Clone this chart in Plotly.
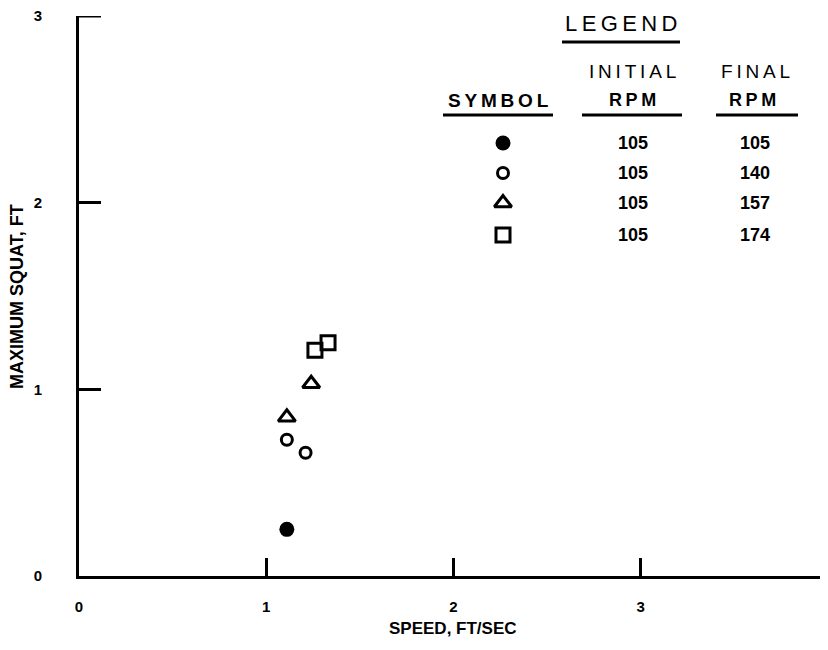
import plotly.graph_objects as go

# data: speed (ft/sec) vs maximum squat (ft), by final RPM
speed_105 = [1.11]
squat_105 = [0.25]
speed_140 = [1.11, 1.21]
squat_140 = [0.73, 0.66]
speed_157 = [1.11, 1.24]
squat_157 = [0.85, 1.03]
speed_174 = [1.26, 1.33]
squat_174 = [1.21, 1.25]

initial_rpm = [105, 105, 105, 105]
final_rpm = [105, 140, 157, 174]

x_ticks = [0, 1, 2, 3, 4]
y_ticks = [0, 1, 2, 3]

FONT = 'Liberation Sans, Arial, sans-serif'
# page body has an 8px margin, so the figure is a bit smaller than the window
W, H = 820, 634
L, R, T = 71, 0, 8
PW, PH = 749, 560
B = H - T - PH

# helpers: screen pixel -> paper fraction
def px(x):
    return (x - 79) / PW


def py(y):
    return (576 - y) / PH


STYLES = [
    dict(symbol='circle', size=15, color='black', line=dict(width=0)),
    dict(symbol='circle-open', size=11, color='black', line=dict(width=3, color='black')),
    dict(symbol='triangle-up-open', size=15, color='black', line=dict(width=3, color='black')),
    dict(symbol='square-open', size=14, color='black', line=dict(width=3, color='black')),
]

series = [(speed_105, squat_105), (speed_140, squat_140),
          (speed_157, squat_157), (speed_174, squat_174)]

fig = go.Figure()
for (sx, sy), st in zip(series, STYLES):
    fig.add_trace(go.Scatter(x=sx, y=sy, mode='markers', marker=st,
                             showlegend=False, cliponaxis=False))

# legend table drawn by hand on an overlay axis in paper units
row_y = [143, 173, 203, 235]
for yy, st in zip(row_y, STYLES):
    fig.add_trace(go.Scatter(x=[px(503)], y=[py(yy)], mode='markers', marker=st,
                             showlegend=False, xaxis='x2', yaxis='y2',
                             cliponaxis=False))

ann = []


def text(x, y, s, size, bold=False, angle=0):
    ann.append(dict(x=px(x), y=py(y), xref='paper', yref='paper', text=s,
                    showarrow=False, xanchor='center', yanchor='middle',
                    textangle=angle,
                    font=dict(family=FONT, size=size, color='black',
                              weight='bold' if bold else 'normal')))


thin = '\u2009'
text(621, 24, thin.join('LEGEND'), 22)
text(632, 72, thin.join('INITIAL'), 19)
text(632, 100, thin.join('RPM'), 18, True)
text(755, 72, thin.join('FINAL'), 19)
text(752, 100, thin.join('RPM'), 18, True)
text(498, 100, thin.join('SYMBOL'), 19, True)
for yy, a, b in zip(row_y, initial_rpm, final_rpm):
    text(633, yy, str(a), 18, True)
    text(755, yy, str(b), 18, True)

text(453, 629, 'SPEED, FT/SEC', 17, True)
text(17, 297, 'MAXIMUM SQUAT, FT', 18, True, angle=-90)

shapes = []
for x0, x1, yy in [(562, 680, 42), (582, 682, 115), (716, 798, 115), (443, 553, 115)]:
    shapes.append(dict(type='line', xref='paper', yref='paper',
                       x0=px(x0), x1=px(x1), y0=py(yy), y1=py(yy),
                       line=dict(color='black', width=3)))

# plotly drops the inside ticks at the far ends of the range; draw them back
shapes.append(dict(type='line', xref='x', yref='y', x0=0, x1=22 / 187.25,
                   y0=y_ticks[-1], y1=y_ticks[-1],
                   line=dict(color='black', width=3)))
shapes.append(dict(type='line', xref='x', yref='y', x0=x_ticks[-1], x1=x_ticks[-1],
                   y0=0, y1=18 / 186.7, line=dict(color='black', width=3)))

fig.update_layout(
    width=W, height=H,
    margin=dict(l=L, r=R, t=T, b=B, autoexpand=False),
    paper_bgcolor='white', plot_bgcolor='white',
    font=dict(family=FONT, color='black'),
    annotations=ann, shapes=shapes,
    xaxis=dict(range=[0, 4], tickvals=x_ticks, showgrid=False, zeroline=False,
               showline=True, linecolor='black', linewidth=3,
               ticks='inside', ticklen=18, tickwidth=3, tickcolor='black',
               ticklabelstandoff=15, ticklabeloverflow='allow',
               tickfont=dict(family=FONT, size=15, color='black', weight='bold')),
    yaxis=dict(range=[0, 3], tickvals=y_ticks, showgrid=False, zeroline=False,
               showline=True, linecolor='black', linewidth=3,
               ticks='inside', ticklen=22, tickwidth=3, tickcolor='black',
               ticklabelstandoff=31, ticklabeloverflow='allow',
               tickfont=dict(family=FONT, size=15, color='black', weight='bold')),
    xaxis2=dict(range=[0, 1], overlaying='x', visible=False),
    yaxis2=dict(range=[0, 1], overlaying='y', visible=False),
    showlegend=False,
)

fig.write_html('out.html')
